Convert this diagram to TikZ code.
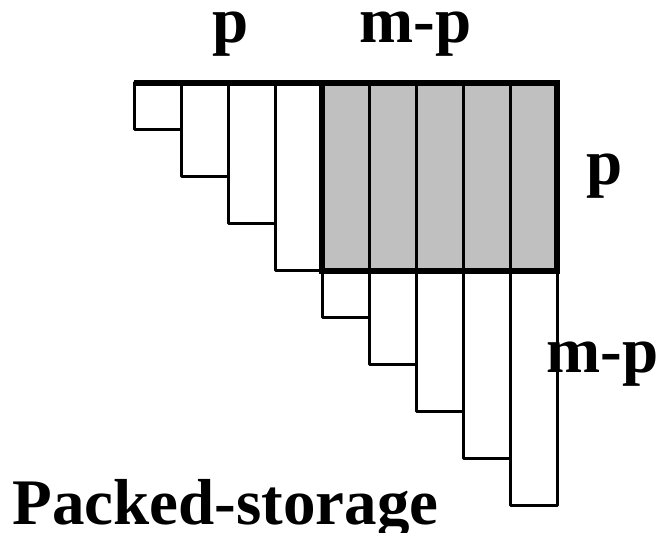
\documentclass[tikz,border=0pt]{standalone}
\usepackage{fontspec}
\setmainfont{Liberation Serif}
\usepackage{xcolor}
\usepackage{tikz}
\usetikzlibrary{calc}
\definecolor{cellgrey}{HTML}{C0C0C0}
\tikzset{
  colline/.style={draw=black, line width=1.5pt, line join=round},
  boxline/.style={draw=black, line width=2.6pt, line join=miter},
  lab/.style={font=\fontsize{32.5}{39}\selectfont\bfseries, inner sep=0pt, anchor=base west},
}

\begin{document}
\begin{tikzpicture}[x=0.5pt, y=-0.5pt]
  \useasboundingbox (0,0) rectangle (664,533);
  \coordinate (TL) at (134,83);
  % packed columns, one per step
  \foreach \i in {0,...,8}{
    \draw[colline, fill=white] ($(TL)+(47*\i,0)$) rectangle ($(TL)+(47*\i+47,47*\i+47)$);
  }
  % shaded p x (m-p) block
  \coordinate (G1) at (322,83);
  \coordinate (G2) at (557,271);
  \fill[cellgrey] (G1) rectangle (G2);
  \foreach \i in {1,...,4}{
    \draw[colline] ($(G1)+(47*\i,0)$) -- ($(G1)+(47*\i,188)$);
  }
  \draw[boxline] (G1) rectangle (G2);
  \draw[boxline] (TL) -- (G1);
  \node[lab] (ptop) at (212,43) {p};
  \node[lab] (mptop) at (359,43) {m-p};
  \node[lab] (pside) at (586,185) {p};
  \node[lab] (mpside) at (546,373) {m-p};
  \node[lab] (title) at (12,525) {Packed-storage};
\end{tikzpicture}
\end{document}
